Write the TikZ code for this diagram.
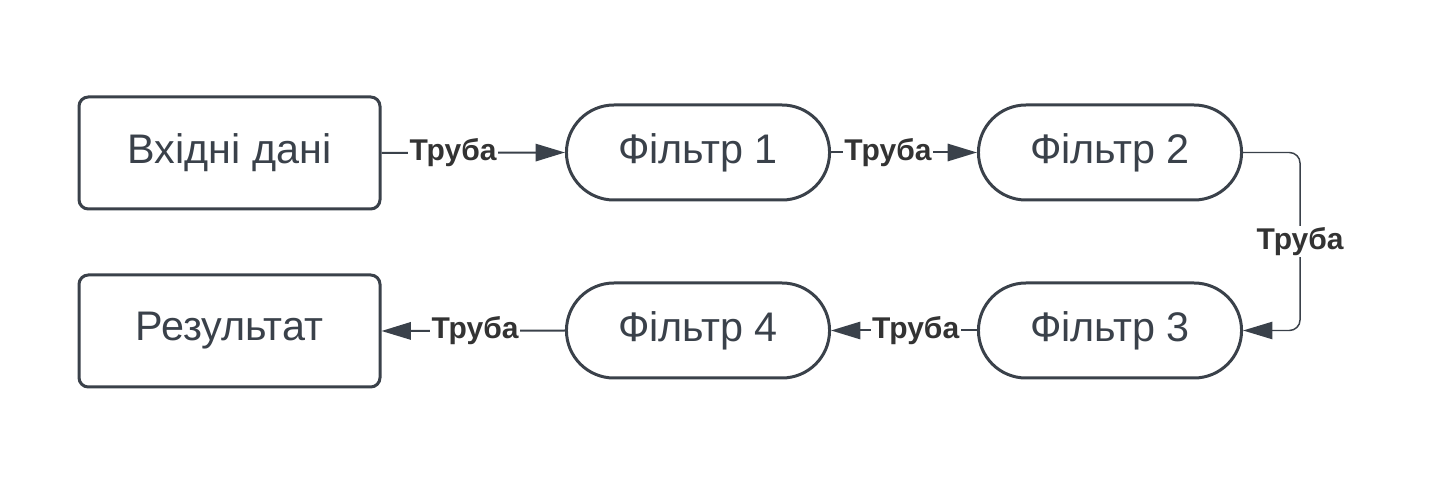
\documentclass[tikz,border=0pt]{standalone}
\usepackage{fontspec}
\setmainfont{Liberation Sans}
\usetikzlibrary{arrows.meta,shapes.misc}
\definecolor{linecol}{HTML}{3A414A}
\definecolor{labcol}{HTML}{333333}

\tikzset{
  databox/.style={draw=linecol,line width=2.25pt,rounded corners=7pt,
    minimum width=225.75pt,minimum height=84pt,text=linecol,
    font=\fontsize{31}{37}\selectfont},
  filterbox/.style={draw=linecol,line width=2.25pt,rounded rectangle,
    minimum width=204pt,minimum height=71.25pt,text=linecol,
    font=\fontsize{31}{37}\selectfont},
  pipe/.style={draw=linecol,line width=1.5pt,-{Triangle[length=22pt,width=13pt]}},
  pipelabel/.style={fill=white,text=labcol,inner sep=1pt,
    font=\bfseries\fontsize{22.5}{27}\selectfont},
}

\begin{document}
\begin{tikzpicture}[x=0.75pt,y=-0.75pt]
  \useasboundingbox (0,0) rectangle (1431,484);

  % boxes
  \node[databox] (input) at (229.5,153) {Вхідні дані};
  \node[databox] (result) at (229.5,331) {Результат};
  \node[filterbox] (f1) at (698,152.5) {Фільтр 1};
  \node[filterbox] (f2) at (1110,152.5) {Фільтр 2};
  \node[filterbox] (f3) at (1110,330.5) {Фільтр 3};
  \node[filterbox] (f4) at (698,330.5) {Фільтр 4};

  % pipes
  \draw[pipe] (input.east) -- node[pos=0.39,pipelabel]{Труба} (f1.west);
  \draw[pipe] (f1.east) -- node[pos=0.39,pipelabel]{Труба} (f2.west);
  \draw[pipe,line width=1.1pt,rounded corners=8pt] (f2.east) -- ++(57,0)
    |- node[pos=0.25,pipelabel]{Труба} (f3.east);
  \draw[pipe] (f3.west) -- node[pos=0.42,pipelabel]{Труба} (f4.east);
  \draw[pipe] (f4.west) -- node[pos=0.49,pipelabel]{Труба} (result.east);
\end{tikzpicture}
\end{document}
